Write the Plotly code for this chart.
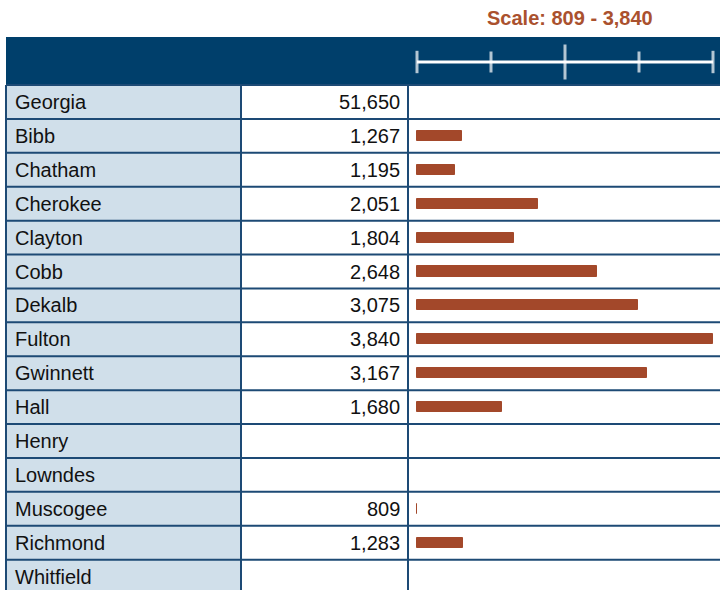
import plotly.graph_objects as go
import numpy as np

# ---- data ----
names = ["Georgia", "Bibb", "Chatham", "Cherokee", "Clayton", "Cobb", "Dekalb", "Fulton",
         "Gwinnett", "Hall", "Henry", "Lowndes", "Muscogee", "Richmond", "Whitfield"]
values = [51650, 1267, 1195, 2051, 1804, 2648, 3075, 3840, 3167, 1680,
          None, None, 809, 1283, None]
scale_min, scale_max = 809, 3840
title_text = "Scale: 809 - 3,840"

# ---- layout constants (pixels) ----
W, H = 720, 590
row_h = 33.9
row0_center = 102
px_bar0, px_bar1 = 417, 713
col_x = [6, 241, 408]
header_top = 37

navy = "#003f6b"
border = "#1d4a75"
light = "#d0dfea"
bar_col = "#a3482a"
title_col = "#aa512e"
font_fam = "Liberation Sans, Arial, sans-serif"

n = len(names)
# y axis: row index, reversed, mapped to pixels
y_top = (0 - row0_center) / row_h
y_bot = (H - row0_center) / row_h
# x axis: value scale mapped to pixels
k = (scale_max - scale_min) / (px_bar1 - px_bar0)
x_left = scale_min - px_bar0 * k
x_right = x_left + W * k

def py(p):
    return (p - row0_center) / row_h

fig = go.Figure()

# bars (counties only, state total is off-scale)
bar_y = [i for i, (nm, v) in enumerate(zip(names, values)) if v is not None and nm != "Georgia"]
bar_x = [values[i] for i in bar_y]
fig.add_trace(go.Bar(
    y=bar_y, x=[v - scale_min for v in bar_x], base=scale_min, orientation="h",
    width=0.3, marker=dict(color=bar_col, line=dict(color=bar_col, width=1)),
    hoverinfo="skip", showlegend=False))

# scale ruler in header
ruler_y = py(62)
ticks = np.linspace(scale_min, scale_max, 5)
fig.add_trace(go.Scatter(x=[scale_min, scale_max], y=[ruler_y, ruler_y], mode="lines",
                         line=dict(color="white", width=3), hoverinfo="skip", showlegend=False))
fig.add_trace(go.Scatter(x=ticks, y=[ruler_y] * 5, mode="markers",
                         marker=dict(symbol="line-ns", size=[16, 15, 25, 15, 16],
                                     line=dict(color="white", width=3)),
                         hoverinfo="skip", showlegend=False))

shapes = []
# header
shapes.append(dict(type="rect", xref="paper", yref="y", x0=col_x[0] / W, x1=1,
                   y0=py(header_top), y1=-0.5, fillcolor=navy, line=dict(width=0), layer="below"))
# light first column
shapes.append(dict(type="rect", xref="paper", yref="y", x0=col_x[0] / W, x1=col_x[1] / W,
                   y0=-0.5, y1=y_bot, fillcolor=light, line=dict(width=0), layer="below"))
# horizontal lines
for b in range(-1, n):
    shapes.append(dict(type="line", xref="paper", yref="y", x0=col_x[0] / W, x1=1,
                       y0=b + 0.5, y1=b + 0.5, line=dict(color=border, width=2)))
# vertical lines
for cx in col_x:
    shapes.append(dict(type="line", xref="paper", yref="y", x0=cx / W, x1=cx / W,
                       y0=-0.5, y1=y_bot, line=dict(color=border, width=2)))

annotations = []
for i, (nm, v) in enumerate(zip(names, values)):
    annotations.append(dict(xref="paper", yref="y", x=13 / W, y=i, text=nm, showarrow=False,
                            xanchor="left", yanchor="middle",
                            font=dict(family=font_fam, size=20, color="#111111")))
    if v is not None:
        annotations.append(dict(xref="paper", yref="y", x=402 / W, y=i, text=f"{v:,}",
                                showarrow=False, xanchor="right", yanchor="middle",
                                font=dict(family=font_fam, size=20, color="#111111")))
annotations.append(dict(xref="paper", yref="y", x=570 / W, y=py(18),
                        text=f"<b>{title_text}</b>",
                        showarrow=False, xanchor="center", yanchor="middle",
                        font=dict(family=font_fam, size=20, color=title_col)))

fig.update_layout(
    width=W, height=H, margin=dict(l=0, r=0, t=0, b=0),
    paper_bgcolor="white", plot_bgcolor="rgba(0,0,0,0)",
    xaxis=dict(range=[x_left, x_right], visible=False, fixedrange=True),
    yaxis=dict(range=[y_bot, y_top], visible=False, fixedrange=True),
    shapes=shapes, annotations=annotations, bargap=0,
)

fig.write_html("out.html", config={"displayModeBar": False},
               post_script="document.body.style.margin='0';document.body.style.overflow='hidden';")
